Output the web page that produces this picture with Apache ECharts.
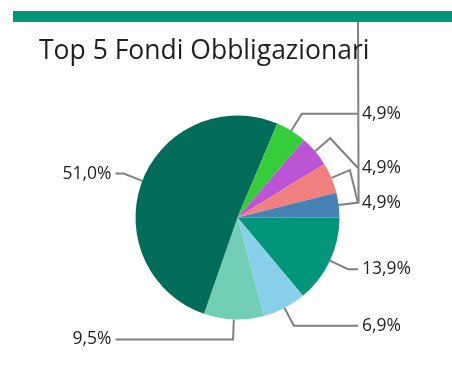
<!DOCTYPE html>
<html><head><meta charset="utf-8">
<script src="https://cdn.jsdelivr.net/npm/echarts@6/dist/echarts.min.js"></script>
<style>html,body{margin:0;padding:0;background:#fff}#c{width:452px;height:387px}</style>
</head><body><div id="c"></div>
<script>
// ---- data ----
const titleText = 'Top 5 Fondi Obbligazionari';
const categories = ['Fondo 1', 'Fondo 2', 'Fondo 3', 'Fondo 4', 'Fondo 5', 'Fondo 6', 'Fondo 7', 'Fondo 8'];
const values = [13.9, 6.9, 9.5, 51.0, 4.9, 4.9, 4.9, 3.9];
const colors = ['#01967A', '#89CFEA', '#72CFB5', '#016C5A', '#35CD3A', '#BB55D3', '#F08080', '#4682B4'];
// label placement overrides (labels pushed by the original layout)
const labelYOverride = {5: 168, 6: 203, 7: -40};
const lineEndYOverride = {7: 16};

// ---- layout ----
const CX = 237.5, CY = 217.5, R = 102, LEN = 20, GAP = 4;
const rightEnd = CX + R + 18.5;
const leftEnd = CX - R - 20;

const fmt = v => v.toFixed(1).replace('.', ',') + '%';

const chart = echarts.init(document.getElementById('c'), null, {renderer: 'canvas'});
chart.setOption({
  animation: false,
  graphic: [
    {type: 'rect', shape: {x: 13, y: 11, width: 440, height: 11}, style: {fill: '#01977A'}, z: 100},
    {type: 'text', x: 39, y: 51, style: {text: titleText, font: '26.5px "Open Sans"', fill: '#1f1f1f', verticalAlign: 'middle'}, z: 100}
  ],
  series: [{
    type: 'pie',
    center: [CX, CY],
    radius: R,
    startAngle: 0,
    clockwise: true,
    avoidLabelOverlap: false,
    data: categories.map((n, i) => ({name: n, value: values[i], itemStyle: {color: colors[i]}})),
    label: {
      show: true,
      formatter: p => fmt(values[p.dataIndex]),
      fontFamily: 'Open Sans',
      fontSize: 17.5,
      color: '#1f1f1f'
    },
    labelLine: {show: true, length: LEN, length2: 10, lineStyle: {color: '#808080', width: 2}},
    emphasis: {disabled: true},
    labelLayout: function (params) {
      const i = params.dataIndex;
      const pts = params.labelLinePoints;
      if (!pts) return {};
      const p0 = pts[0];
      const dx = p0[0] - CX, dy = p0[1] - CY, d = Math.hypot(dx, dy);
      const p1 = [CX + dx / d * (R + LEN), CY + dy / d * (R + LEN)];
      const isRight = dx >= 0;
      const endX = isRight ? rightEnd : leftEnd;
      const ly = labelYOverride[i] != null ? labelYOverride[i] : p1[1];
      const ey = lineEndYOverride[i] != null ? lineEndYOverride[i] : ly;
      return {
        x: isRight ? endX + GAP : endX - GAP,
        y: ly,
        align: isRight ? 'left' : 'right',
        verticalAlign: 'middle',
        labelLinePoints: [p0, p1, [endX, ey]]
      };
    }
  }]
});
</script></body></html>
